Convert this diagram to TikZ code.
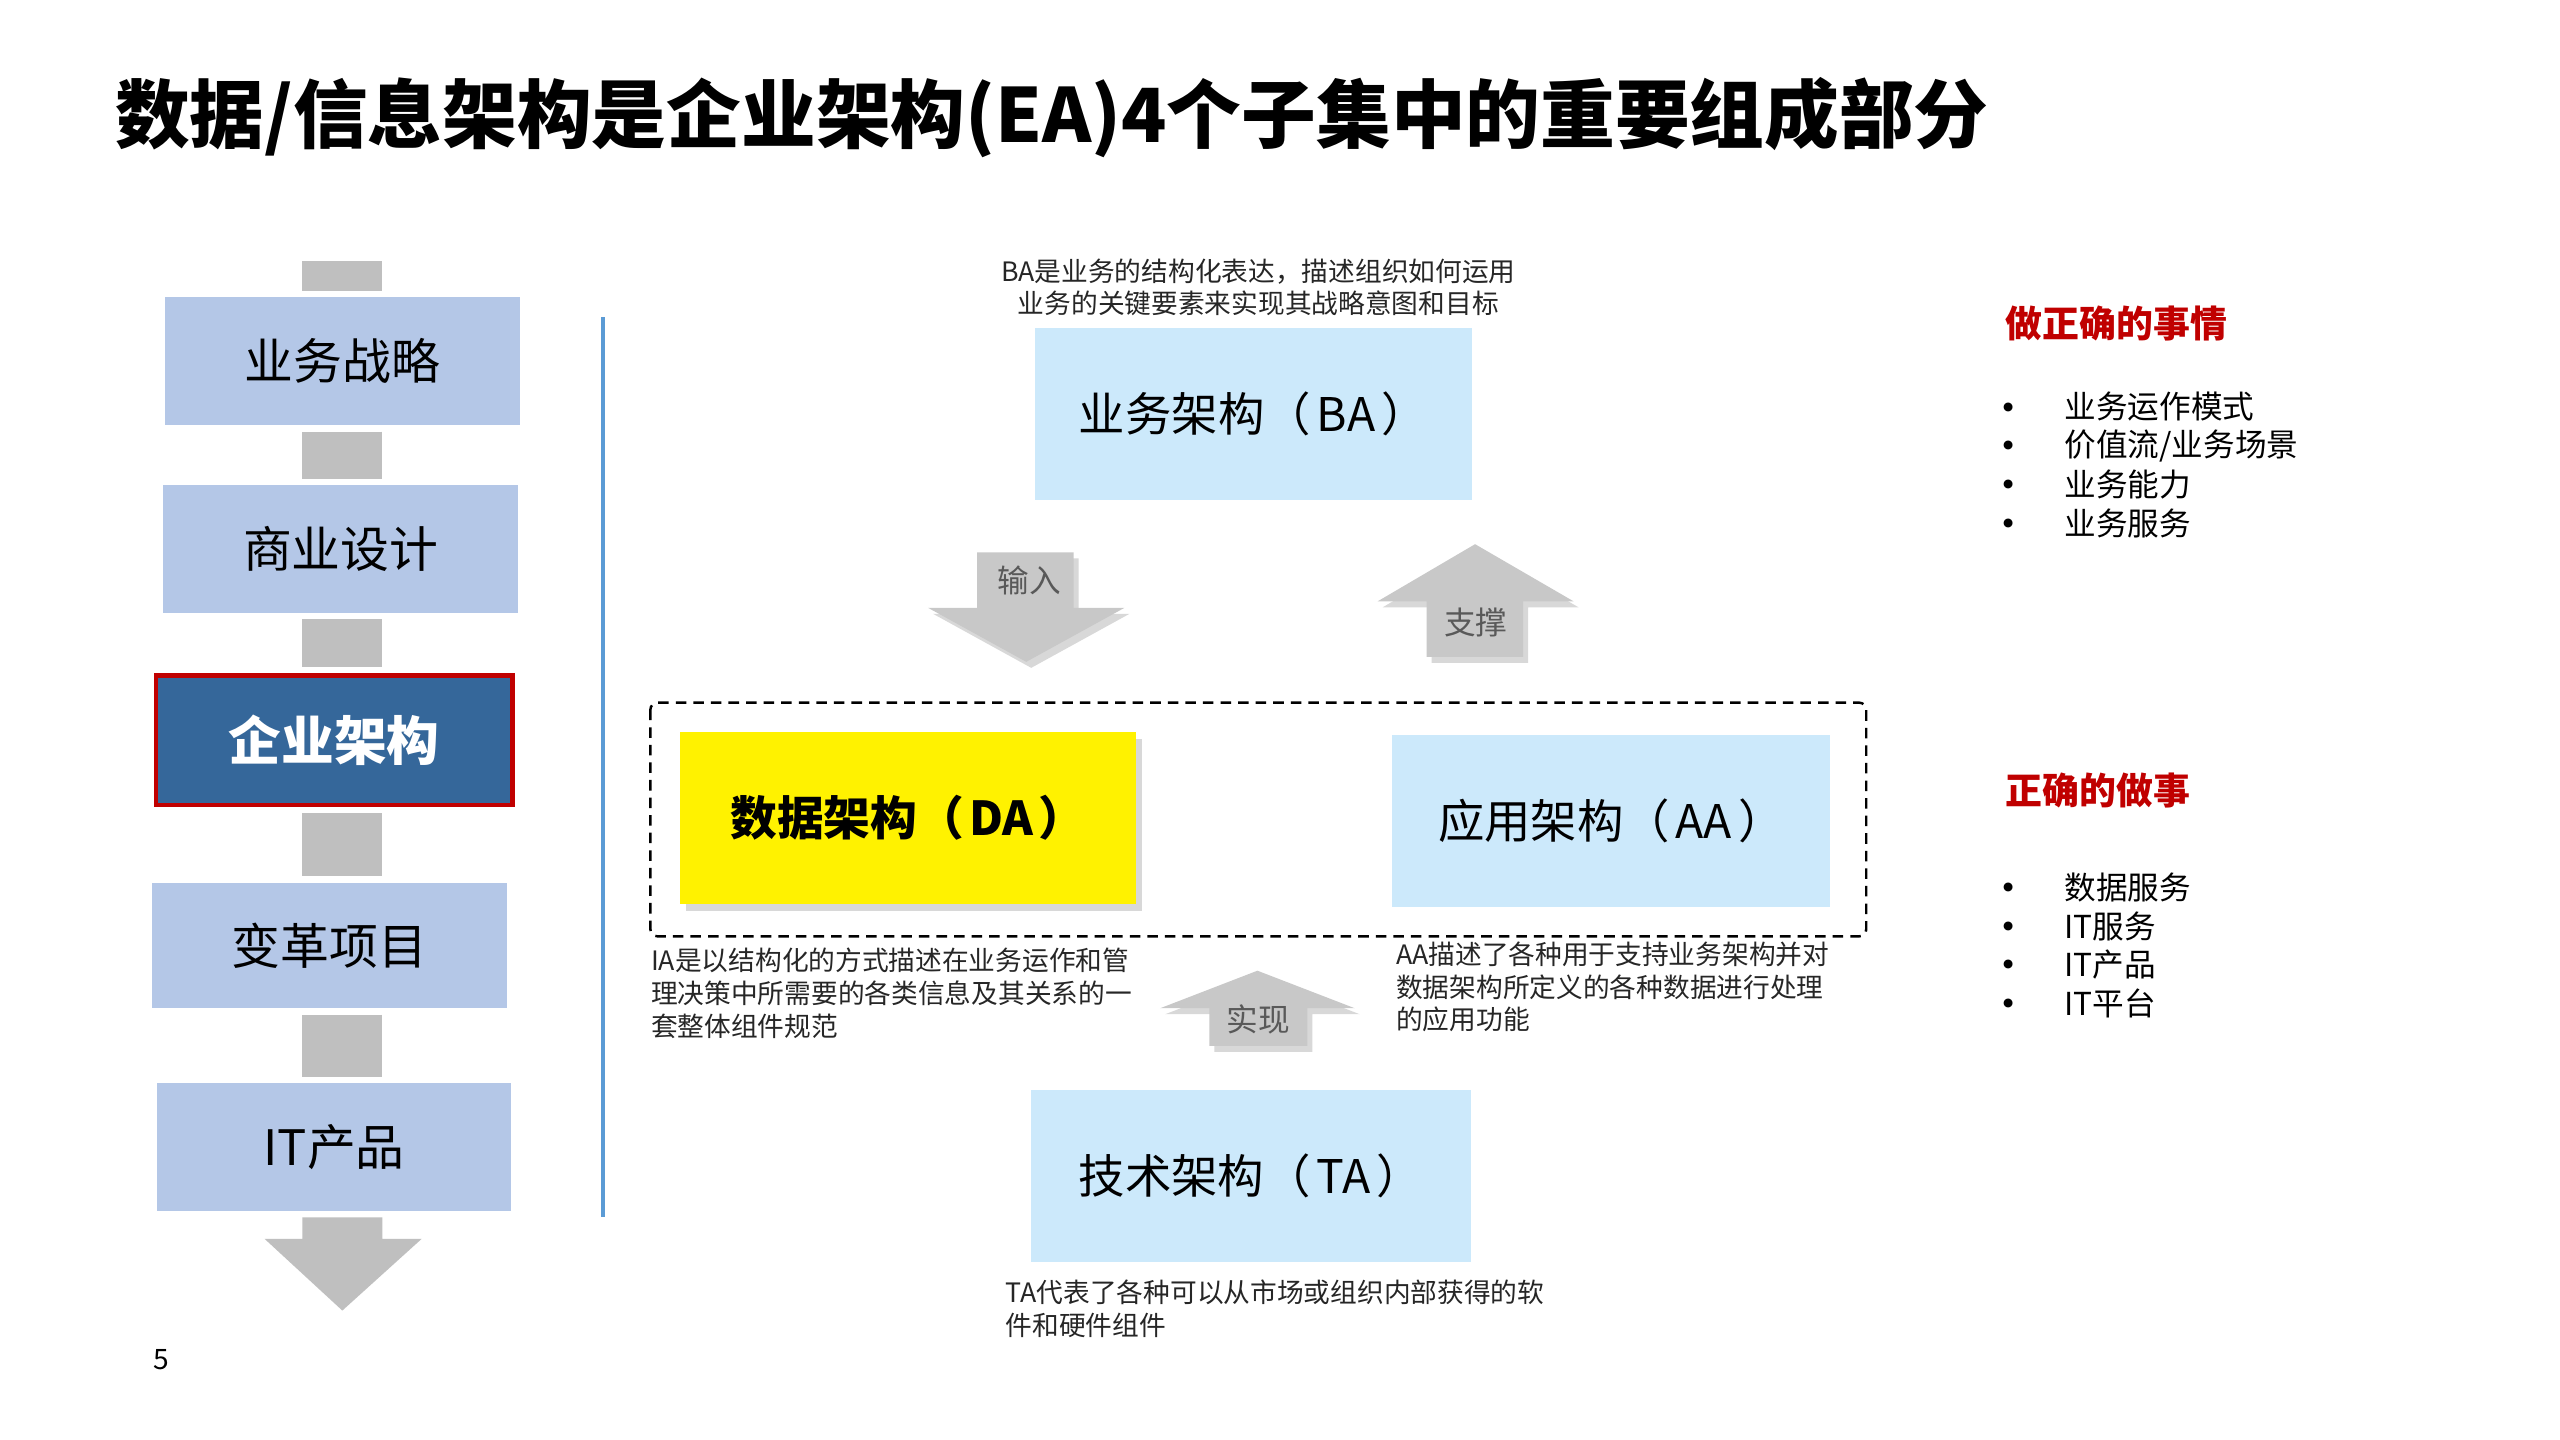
\documentclass[tikz,border=0pt]{standalone}
\usepackage{fontspec}
\setmainfont{Noto Sans CJK SC}
\usetikzlibrary{shadows}

\definecolor{stepblue}{HTML}{B4C7E7}
\definecolor{eablue}{HTML}{35679A}
\definecolor{eared}{HTML}{C00000}
\definecolor{bargray}{HTML}{BFBFBF}
\definecolor{archblue}{HTML}{CCE9FB}
\definecolor{fatgray}{HTML}{C8C8C8}
\definecolor{labelgray}{HTML}{595959}
\definecolor{linkblue}{HTML}{5B9BD5}
\definecolor{notegray}{HTML}{262626}

\begin{document}
\begin{tikzpicture}
      [x=0.988cm,y=0.988cm,
       every node/.style={inner sep=0pt},
       lbox/.style={fill=stepblue,minimum width=3.547cm,minimum height=1.275cm,
                    font=\fontsize{13.9}{16}\selectfont},
       abox/.style={fill=archblue,minimum width=4.377cm,minimum height=1.719cm,
                    font=\fontsize{13.2}{15}\selectfont},
       note/.style={align=left,anchor=north west,text=notegray,
                    font=\fontsize{7.6}{9.3}\selectfont},
       bar/.style={draw=bargray,line width=0.8cm,shorten <=0.06cm,shorten >=0.06cm},
       fat/.style={fill=fatgray,drop shadow={shadow xshift=0.05cm,shadow yshift=-0.06cm,
                   opacity=0.25,fill=black!60}},
       fatlabel/.style={text=labelgray,font=\fontsize{9}{11}\selectfont},
       head/.style={anchor=west,text=eared,font=\fontsize{10.5}{12}\selectfont\bfseries},
       dot/.style={font=\fontsize{12}{12}\selectfont},
       item/.style={anchor=west,font=\fontsize{9}{11}\selectfont}]
      \fill[white] (0,0) rectangle (25.911,-14.575);
      \useasboundingbox (0,0) rectangle (25.911,-14.575);

      % title
      \node[anchor=west,font=\fontsize{21.25}{24}\selectfont\bfseries] (title) at (1.158,-1.191)
        {数据/信息架构是企业架构(EA)4个子集中的重要组成部分};

      % left column
      \coordinate (axis) at (3.465,-2.586);
      \node[lbox] (l1) at (3.465,-3.655) {业务战略};
      \node[lbox] (l2) at (3.449,-5.557) {商业设计};
      \node[fill=eablue,draw=eared,line width=1.2pt,minimum width=3.567cm,minimum height=1.294cm,
            text=white,font=\fontsize{15}{17}\selectfont\bfseries] (l3) at (3.382,-7.493) {企业架构};
      \node[lbox,minimum height=1.255cm] (l4) at (3.333,-9.568) {变革项目};
      \node[lbox] (l5) at (3.382,-11.611) {IT产品};

      \draw[bar] (axis) -- (l1.north -| axis);
      \foreach \from/\to in {l1/l2, l2/l3, l3/l4, l4/l5}
      \draw[bar] (\from.south -| axis) -- (\to.north -| axis);
      \fill[bargray] (3.06,-12.322) -- (3.87,-12.322) -- (3.87,-12.54) -- (4.267,-12.54)
        -- (3.465,-13.265) -- (2.679,-12.54) -- (3.06,-12.54) -- cycle;

      \node[anchor=west,font=\fontsize{8}{9}\selectfont] (page) at (1.55,-13.761) {5};

      \draw[linkblue,line width=1pt] (6.103,-3.209) -- (6.103,-12.322);

      % architecture boxes
      \node[abox] (ba) at (12.686,-4.193) {业务架构（\hspace{1.7pt}BA\hspace{1.7pt}）};
      \node[abox,fill=yellow,minimum width=4.56cm,font=\fontsize{13.3}{15}\selectfont\bfseries,
            drop shadow={shadow xshift=0.06cm,shadow yshift=-0.07cm,opacity=0.25,fill=black!60}]
            (da) at (9.188,-8.278) {数据架构（\hspace{1.4pt}DA\hspace{1.4pt}）};
      \node[abox] (aa) at (16.308,-8.311) {应用架构（\hspace{1.7pt}AA\hspace{1.7pt}）};
      \node[abox,minimum width=4.397cm] (ta) at (12.661,-11.9) {技术架构（\hspace{1.7pt}TA\hspace{1.7pt}）};

      \draw[dashed,dash pattern=on 3pt off 2pt,line width=0.7pt,rounded corners=2pt]
        (6.583,-7.112) rectangle (18.889,-9.477);

      % block arrows
      \path[fat] (9.891,-5.591) -- (10.867,-5.591) -- (10.867,-6.153) -- (11.38,-6.153)
        -- (10.387,-6.699) -- (9.395,-6.153) -- (9.891,-6.153) -- cycle;
      \node[fatlabel] (in) at (10.42,-5.872) {输入};
      \path[fat] (14.44,-6.649) -- (14.44,-6.087) -- (13.943,-6.087) -- (14.93,-5.508)
        -- (15.928,-6.087) -- (15.415,-6.087) -- (15.415,-6.649) -- cycle;
      \node[fatlabel] (up) at (14.936,-6.302) {支撑};
      \path[fat] (12.24,-10.586) -- (12.24,-10.205) -- (11.743,-10.205) -- (12.727,-9.825)
        -- (13.712,-10.205) -- (13.232,-10.205) -- (13.232,-10.586) -- cycle;
      \node[fatlabel] (re) at (12.736,-10.321) {实现};

      % notes
      \node[note,align=center,anchor=north] (bn) at (12.736,-2.611)
        {BA是业务的结构化表达，描述组织如何运用\\业务的关键要素来实现其战略意图和目标};
      \node[note] (ia) at (6.583,-9.591)
        {IA是以结构化的方式描述在业务运作和管\\理决策中所需要的各类信息及其关系的一\\套整体组件规范};
      \node[note] (an) at (14.125,-9.524)
        {AA描述了各种用于支持业务架构并对\\数据架构所定义的各种数据进行处理\\的应用功能};
      \node[note] (tn) at (10.172,-12.948)
        {TA代表了各种可以从市场或组织内部获得的软\\件和硬件组件};

      % right column
      \node[head] (h1) at (20.295,-3.275) {做正确的事情};
      \foreach \t [count=\i] in {业务运作模式, 价值流/业务场景, 业务能力, 业务服务}{
        \node[dot] at (20.33,{-4.178-0.392*(\i-1)}) {•};
        \node[item] (a\i) at (20.89,{-4.118-0.392*(\i-1)}) {\t};
      }
      \node[head] (h2) at (20.295,-8.005) {正确的做事};
      \foreach \t [count=\i] in {数据服务, IT服务, IT产品, IT平台}{
        \node[dot] at (20.33,{-9.041-0.392*(\i-1)}) {•};
        \node[item] (b\i) at (20.89,{-8.981-0.392*(\i-1)}) {\t};
      }
    \end{tikzpicture}
\end{document}
